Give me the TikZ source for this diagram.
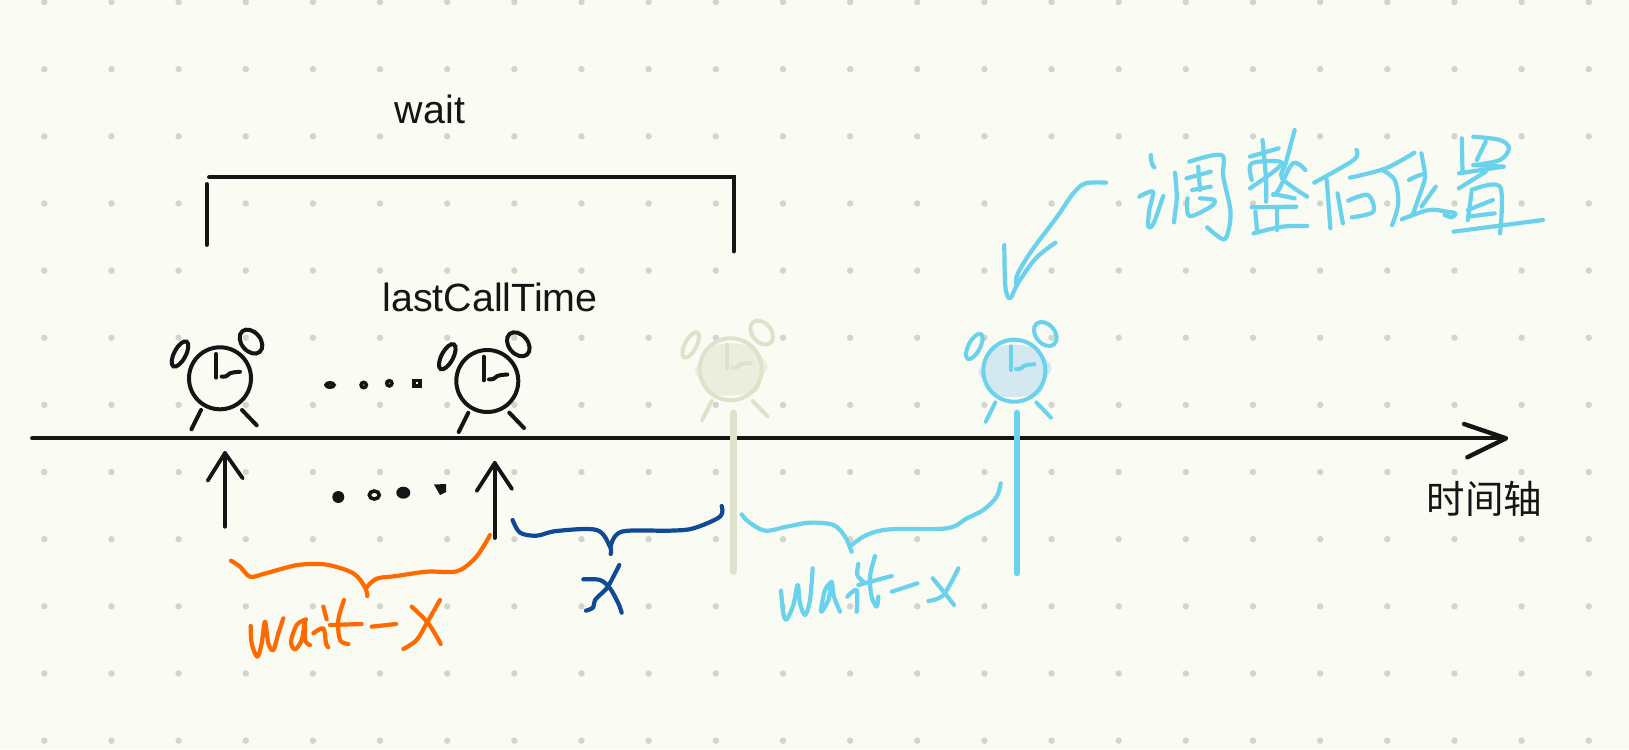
\documentclass[tikz,border=0pt]{standalone}
\usepackage{fontspec}
\setmainfont{Liberation Sans}
\newfontfamily\cjkfont{Noto Sans CJK SC}
\definecolor{paper}{HTML}{FAFBF2}
\definecolor{griddot}{HTML}{D4D4CF}
\definecolor{inkblack}{HTML}{151515}
\definecolor{inkorange}{HTML}{FF6A00}
\definecolor{inknavy}{HTML}{0E4A98}
\definecolor{inksky}{HTML}{6AD2EC}
\definecolor{ghostline}{HTML}{DFE2CB}
\definecolor{ghostfill}{HTML}{ECEEDD}
\definecolor{skyfill}{HTML}{D3E8F0}
\tikzset{
  hand/.style={line width=4.2pt,line cap=round,line join=round},
  rule/.style={draw=inkblack,line width=3.8pt,line cap=round},
  label/.style={text=inkblack,inner sep=0pt,font=\fontsize{39.4}{39.4}\selectfont},
}
\newcommand\hs[1]{\draw[hand] plot[smooth,tension=.55] coordinates {#1};}
\newcommand\alarmclock[4]{%
  \begin{scope}[shift={(#1,#2)}]
    #4
    \begin{scope}[draw=#3,line width=4pt,line cap=round]
    \draw (0,0) circle (31pt);
    \draw (-40,-24.3) ellipse [x radius=14pt,y radius=5.8pt,rotate=62];
    \draw (31,-36.7) ellipse [x radius=13.5pt,y radius=9.5pt,rotate=-50];
    \draw (-3.7,-24.3) -- (-3.7,-0.7);
    \draw plot[smooth,tension=.6] coordinates {(1.7,-1.7) (6,-2) (10,-5) (14,-6) (20,-6.5)};
    \draw (-19,31.7) -- (-28.6,51);
    \draw (22,31.7) -- (36.7,47);
    \end{scope}
  \end{scope}}
\newcommand\blob[1]{\fill[#1] plot[smooth cycle,tension=.6] coordinates {(-36,2) (-28,-8) (-20,-22) (0,-26) (20,-22) (33,-10) (37,-2) (30,10) (26,22) (5,26) (-15,25) (-25,15)};}
\begin{document}
\begin{tikzpicture}[x=1pt,y=-1pt]
\useasboundingbox (0,0) rectangle (1629,749);
\fill[paper] (0,0) rectangle (1629,749);
\foreach \i in {0,...,23}{\foreach \j in {0,...,11}{
  \fill[griddot] ({44.3+67.15*\i},{2+67.15*\j}) circle (3.2pt);}}

% bracket
\coordinate (bl) at (206.7,245);
\coordinate (blt) at (206.7,184);
\coordinate (tl) at (209,177.3);
\coordinate (tr) at (733.6,177.3);
\coordinate (br) at (733.6,251.5);
\draw[rule] (bl) -- (blt);
\draw[rule] (tl) -- (tr) -- (br);

\node[label,anchor=base] (waitlabel) at (430,123.3) {wait};
\node[label,anchor=base] (lastcall) at (490,311) {lastCallTime};
\node[label,font=\cjkfont\fontsize{38.5}{38.5}\selectfont] (axislabel) at (1484.5,498.5) {时间轴};

% axis
\coordinate (axisstart) at (32,438.3);
\coordinate (axisend) at (1506,438.3);
\coordinate (headup) at (1464,424);
\coordinate (headdown) at (1467.3,457.3);
\draw[rule] (axisstart) -- (axisend);
\draw[rule,line join=round,line width=4.4pt] (headup) -- (axisend) -- (headdown);

% clocks
\alarmclock{220}{378.3}{inkblack}{}
\alarmclock{487.3}{381}{inkblack}{}
\alarmclock{730.7}{369.3}{ghostline}{\blob{ghostfill}}
\alarmclock{1014.3}{370.7}{inksky}{\blob{skyfill}}

% dots
\begin{scope}[draw=inkblack,line width=3.6pt]
\draw (330,385) ellipse [x radius=4pt,y radius=2.2pt];
\draw (363.7,385) circle (2.6pt);
\draw (389.3,383.3) circle (2.6pt);
\draw (414,380.5) rectangle (420,386);
\end{scope}
\fill[inkblack] (338.3,497) circle (6pt);
\draw[inkblack,line width=3.6pt] (374.3,495) ellipse [x radius=5pt,y radius=4pt];
\fill[inkblack] (403.3,492.7) ellipse [x radius=7pt,y radius=6pt];
\fill[inkblack] (434,484.5) -- (446,484) -- (446,492) -- (440,495) -- cycle;

% up arrows
\coordinate (a1b) at (225,526.7);
\coordinate (a1t) at (225,453);
\coordinate (a1l) at (207.7,480.7);
\coordinate (a1r) at (242.7,478.3);
\draw[rule] (a1b) -- (a1t);
\draw[rule,line join=round] (a1l) -- (a1t) -- (a1r);
\coordinate (a2b) at (494.7,538);
\coordinate (a2t) at (494.7,463);
\coordinate (a2l) at (476.7,491);
\coordinate (a2r) at (512,489);
\draw[rule] (a2b) -- (a2t);
\draw[rule,line join=round] (a2l) -- (a2t) -- (a2r);

% ticks
\coordinate (gt) at (733.3,413);
\coordinate (gb) at (733.3,571.5);
\coordinate (st) at (1017,413);
\coordinate (sb) at (1017,573);
\draw[ghostline,line width=6.6pt,line cap=round] (gt) -- (gb);
\draw[inksky,line width=6.6pt,line cap=round] (st) -- (sb);

% orange + navy (zoom 4 frame)
\begin{scope}[shift={(220,500)},x=0.33333pt,y=-0.33333pt]
\begin{scope}[color=inkorange]
\hs{(33,182) (60,200) (90,230) (130,222) (180,208) (240,194) (320,194) (400,220) (435,262) (442,288)}
\hs{(440,262) (470,236) (530,228) (620,215) (710,214) (760,180) (790,140) (810,105)}
\hs{(92,378) (95,430) (112,470) (125,430) (135,365) (145,430) (160,450) (175,400) (190,355)}
\hs{(258,358) (230,375) (213,425) (225,448) (245,420) (255,365) (255,420) (270,435)}
\hs{(280,400) (310,385) (318,430) (325,442)}
\hs{(310,320) (320,358)}
\hs{(372,300) (355,360) (360,420) (385,432)}
\hs{(330,375) (425,372)}
\hs{(455,380) (528,372)}
\hs{(575,320) (625,370) (662,432)}
\hs{(660,300) (620,370) (590,420) (550,447)}
\end{scope}
\begin{scope}[color=inknavy]
\hs{(878,60) (900,98) (950,107) (1010,93) (1130,90) (1170,140) (1172,162)}
\hs{(1172,140) (1205,95) (1350,92) (1420,85) (1500,50) (1505,18)}
\hs{(1198,195) (1180,230) (1160,265) (1125,300) (1120,322) (1098,332)}
\hs{(1090,238) (1140,240) (1170,265) (1195,310) (1205,338)}
\end{scope}
\end{scope}

% sky brace (zoom 2 frame)
\begin{scope}[shift={(660,300)},x=0.33333pt,y=-0.33333pt,color=inksky]
\hs{(245,643) (265,665) (315,692) (380,680) (450,668) (520,675) (555,710) (575,755)}
\hs{(575,735) (620,705) (690,688) (860,685) (920,655) (970,630) (1010,590) (1022,550)}
\end{scope}

% sky wait-x (zoom 6 frame)
\begin{scope}[shift={(760,540)},x=0.33333pt,y=-0.33333pt,color=inksky]
\hs{(63,152) (70,220) (80,238) (100,195) (113,135) (120,190) (135,225) (150,180) (158,85)}
\hs{(215,125) (195,150) (183,215) (205,180) (215,128) (222,170) (240,215)}
\hs{(262,170) (290,150) (290,215)}
\hs{(295,72) (292,105) (310,125)}
\hs{(345,48) (330,110) (335,170) (350,200) (355,170)}
\hs{(295,135) (395,108)}
\hs{(395,155) (472,130)}
\hs{(518,115) (555,160) (582,195)}
\hs{(595,85) (550,165) (505,183)}
\end{scope}

% sky heading (zoom 3 frame)
\begin{scope}[shift={(1000,130)},x=0.35714pt,y=-0.33333pt,color=inksky]
\hs{(297,158) (240,160) (205,190) (160,260) (90,360) (50,430) (45,460)}
\hs{(155,338) (100,385) (50,460) (28,505) (15,470) (12,345)}
% diao
\hs{(422,75) (425,100) (432,112)}
\hs{(390,200) (428,185) (418,240) (415,290) (430,280) (457,198)}
\hs{(490,128) (495,200) (490,250) (487,277)}
\hs{(530,95) (620,75) (625,140) (645,240) (640,300) (625,328) (580,292)}
\hs{(522,145) (590,125)}
\hs{(555,110) (560,180)}
\hs{(538,180) (590,170)}
\hs{(525,205) (530,258) (590,230) (600,210) (560,205)}
% zheng
\hs{(700,80) (780,55)}
\hs{(735,30) (745,150) (745,215)}
\hs{(700,175) (790,100) (705,100) (705,150)}
\hs{(825,0) (800,100) (790,145) (860,200)}
\hs{(855,120) (820,100) (780,180) (765,195)}
\hs{(765,192) (825,205)}
\hs{(705,232) (830,230)}
\hs{(775,235) (775,300)}
\hs{(715,245) (720,305)}
\hs{(710,310) (790,290) (860,288)}
% hou
\hs{(998,60) (990,90) (880,158)}
\hs{(915,150) (925,295)}
\hs{(980,143) (1080,115) (1160,68)}
\hs{(945,190) (960,280)}
\hs{(975,212) (1030,195) (1045,245) (985,262)}
% wei
\hs{(1070,120) (1105,150) (1115,220) (1098,285)}
\hs{(1180,70) (1190,130)}
\hs{(1145,150) (1190,135) (1170,210) (1155,255)}
\hs{(1220,170) (1180,230)}
\hs{(1125,268) (1200,240) (1250,245) (1275,250) (1265,262) (1245,255)}
% zhi
\hs{(1293,25) (1295,125)}
\hs{(1325,20) (1400,30) (1425,55) (1400,90) (1330,105)}
\hs{(1360,35) (1335,90)}
\hs{(1325,105) (1410,110)}
\hs{(1285,130) (1410,110)}
\hs{(1285,175) (1360,125)}
\hs{(1320,180) (1400,170) (1400,310)}
\hs{(1310,240) (1380,210)}
\hs{(1310,260) (1385,250)}
\hs{(1320,190) (1310,270)}
\hs{(1270,305) (1520,270)}
\end{scope}
\end{tikzpicture}
\end{document}
